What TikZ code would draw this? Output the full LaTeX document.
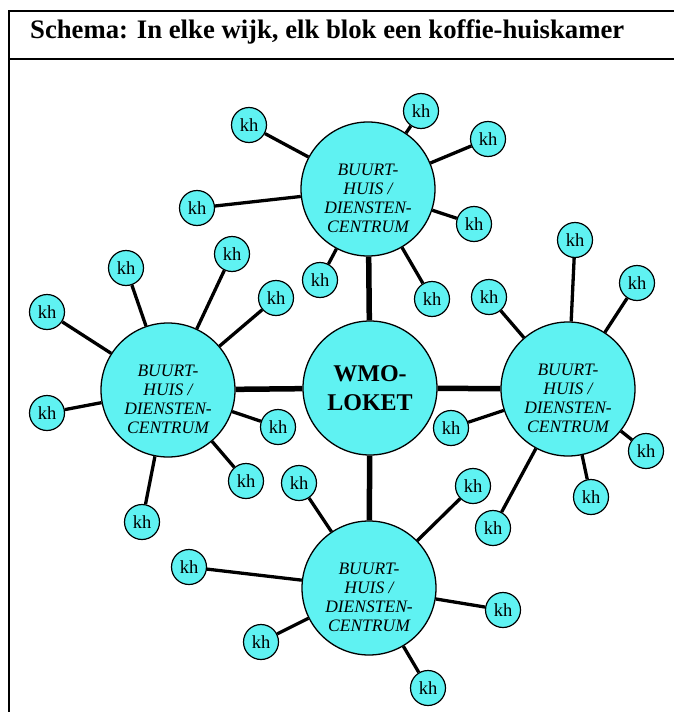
\documentclass[tikz,border=0pt]{standalone}
\usepackage{fontspec}
\setmainfont{Liberation Serif}
\definecolor{khcyan}{RGB}{95,242,242}
\tikzset{
    hub/.style={circle, draw, line width=1.3pt, fill=khcyan, minimum size=134pt, inner sep=0pt},
    bhtext/.style={align=center, font=\fontsize{17.5}{19}\selectfont\itshape, yshift=-9pt},
    khnode/.style={circle, draw, line width=1.2pt, fill=khcyan, minimum size=35pt, inner sep=0pt, font=\fontsize{18.5}{18.5}\selectfont},
    spoke/.style={line width=3.3pt},
    link/.style={line width=5.5pt}
}
\newcommand{\bhlabel}{BUURT-\\HUIS /\\DIENSTEN-\\CENTRUM}
\begin{document}
\begin{tikzpicture}[x=1pt, y=-1pt]
    \useasboundingbox (0,0) rectangle (674,712);

    % Frame and title
    \draw[line width=1.5pt] (674,11) -- (9,11) -- (9,712);
    \draw[line width=1.5pt] (9,59) -- (674,59);
    \node[anchor=base west, inner sep=0pt, font=\fontsize{26.7}{26.7}\selectfont\bfseries] (title) at (30,38)
        {Schema: In elke wijk, elk blok een koffie-huiskamer};

    % Hubs
    \node[hub, font=\fontsize{24}{29}\selectfont\bfseries, align=center] (wmo) at (370,388) {WMO-\\LOKET};
    \node[hub, label={[bhtext]center:{\bhlabel}}] (top) at (368,189) {};
    \node[hub, label={[bhtext]center:{\bhlabel}}] (left) at (168,390) {};
    \node[hub, label={[bhtext]center:{\bhlabel}}] (right) at (568,389) {};
    \node[hub, label={[bhtext]center:{\bhlabel}}] (bottom) at (369,588) {};

    \draw[link] (wmo) -- (top);
    \draw[link] (wmo) -- (left);
    \draw[link] (wmo) -- (right);
    \draw[link] (wmo) -- (bottom);

    % Koffie-huiskamers
    \foreach \x/\y [count=\i] in {249/125, 421/111, 488/139, 197/208, 474/224, 320/280, 432/299} {
        \node[khnode] (t\i) at (\x,\y) {kh};
        \draw[spoke] (t\i) -- (top);
    }
    \foreach \x/\y [count=\i] in {126/268, 232/254, 276/298, 47/312, 47/413, 278/427, 246/481, 142/522} {
        \node[khnode] (l\i) at (\x,\y) {kh};
        \draw[spoke] (l\i) -- (left);
    }
    \foreach \x/\y [count=\i] in {575/240, 637/283, 489/297, 451/428, 646/451, 591/497, 493/528} {
        \node[khnode] (r\i) at (\x,\y) {kh};
        \draw[spoke] (r\i) -- (right);
    }
    \foreach \x/\y [count=\i] in {299/483, 473/486, 189/567, 503/610, 261/642, 428/688} {
        \node[khnode] (b\i) at (\x,\y) {kh};
        \draw[spoke] (b\i) -- (bottom);
    }
\end{tikzpicture}
\end{document}
